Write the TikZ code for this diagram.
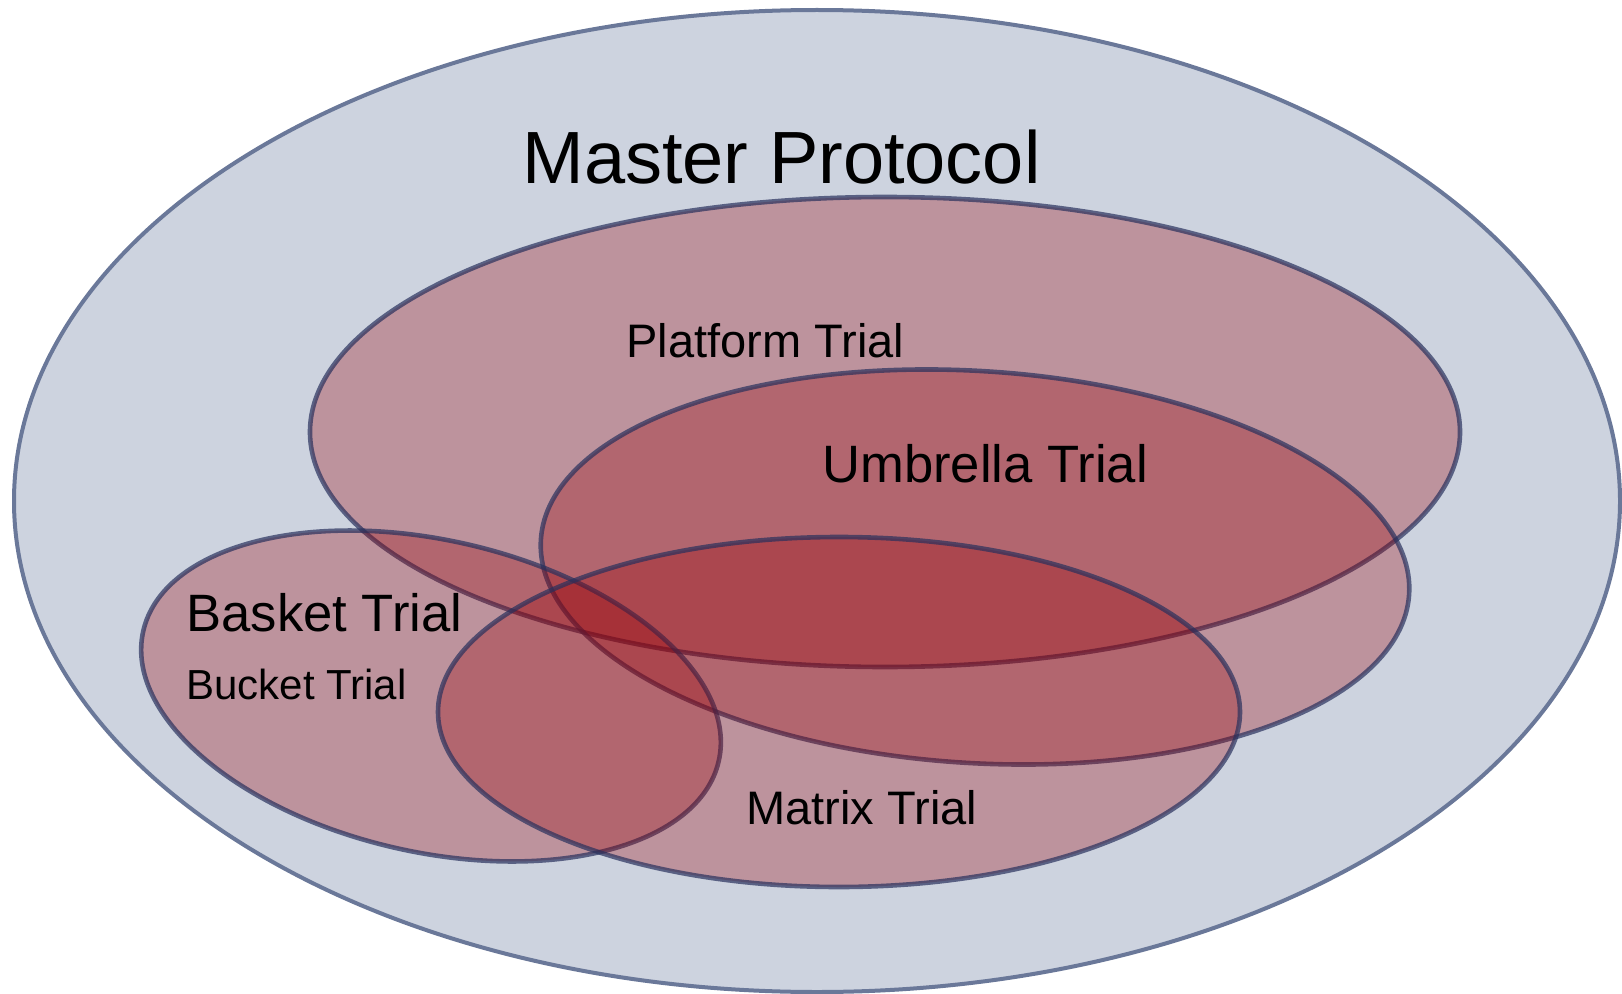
\documentclass[tikz,border=0pt]{standalone}
\usepackage{fontspec}
\setmainfont{Liberation Sans}
\definecolor{protofill}{RGB}{205,211,223}
\definecolor{protoline}{RGB}{106,120,153}
\definecolor{trialfill}{RGB}{155,0,6}
\definecolor{trialline}{RGB}{40,48,92}
\tikzset{
    protocol/.style={fill=protofill, draw=protoline, line width=2pt},
    trial/.style={fill=trialfill, fill opacity=0.3, draw=trialline, draw opacity=0.7, line width=2.3pt},
    lbl/.style={anchor=base west, inner sep=0pt, text=black}
}
\begin{document}
\begin{tikzpicture}[x=0.5pt,y=0.5pt]
    \useasboundingbox (0,0) rectangle (1622,993);

    \draw[protocol] (817,492) ellipse [x radius=803, y radius=491];

    % overlapping trial designs
    \draw[trial] (885,561) ellipse [x radius=575, y radius=235];
    \draw[trial, rotate around={-3.6:(975,426)}] (975,426) ellipse [x radius=435, y radius=196];
    \draw[trial, rotate around={-12.7:(431,297)}] (431,297) ellipse [x radius=295, y radius=156];
    \draw[trial] (839,281) ellipse [x radius=401, y radius=175];

    \node[lbl] (master) at (522,809) {\fontsize{37}{40}\selectfont Master Protocol};
    \node[lbl] (platform) at (626,636) {\fontsize{23.5}{26}\selectfont Platform Trial};
    \node[lbl] (umbrella) at (822,511) {\fontsize{26.3}{29}\selectfont Umbrella Trial};
    \node[lbl] (basket) at (186,362) {\fontsize{26.3}{29}\selectfont Basket Trial};
    \node[lbl] (bucket) at (186,294) {\fontsize{21}{24}\selectfont Bucket Trial};
    \node[lbl] (matrix) at (746,169) {\fontsize{23.5}{26}\selectfont Matrix Trial};
\end{tikzpicture}
\end{document}
